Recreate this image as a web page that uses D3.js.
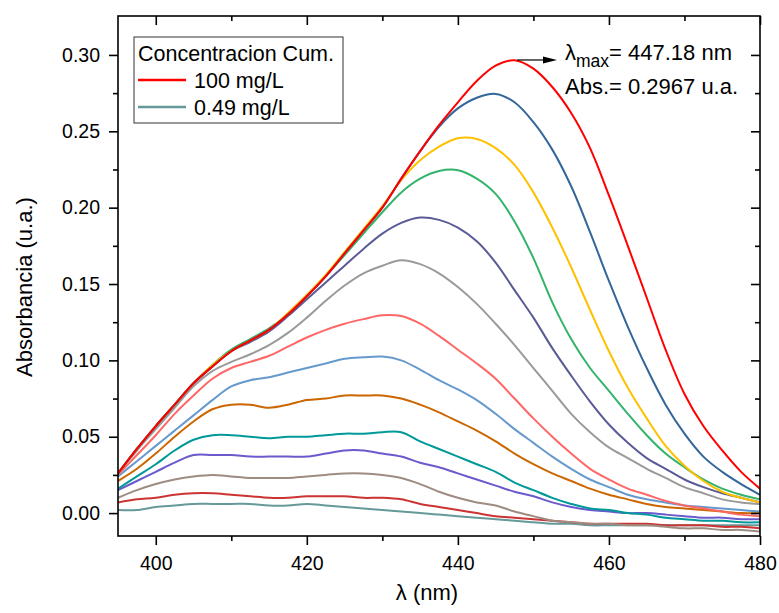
<!DOCTYPE html>
<html>
<head>
<meta charset="utf-8">
<script src="https://cdn.jsdelivr.net/npm/d3@7"></script>
<style>
body { margin: 0; background: #fff; }
text { font-family: "Liberation Sans", Arial, sans-serif; fill: #000; }
</style>
</head>
<body>
<script>
// longitud de onda (nm), cada 2.5 nm
var lambda = [395, 397.5, 400, 402.5, 405, 407.5, 410, 412.5, 415, 417.5, 420, 422.5, 425, 427.5, 430, 432.5, 435, 437.5, 440,
              442.5, 445, 447.5, 450, 452.5, 455, 457.5, 460, 462.5, 465, 467.5, 470, 472.5, 475, 477.5, 480];

// absorbancia de cada espectro (de 100 mg/L a 0.49 mg/L)
var curva01 = [0.026, 0.042, 0.057, 0.071, 0.085, 0.096, 0.106, 0.113, 0.120, 0.130, 0.142, 0.155, 0.170, 0.185, 0.200, 0.219, 0.237, 0.254,
               0.269, 0.283, 0.293, 0.2965, 0.291, 0.279, 0.262, 0.239, 0.208, 0.175, 0.141, 0.107, 0.078, 0.057, 0.041, 0.027, 0.016];
var curva02 = [0.026, 0.042, 0.057, 0.071, 0.085, 0.096, 0.106, 0.113, 0.120, 0.130, 0.142, 0.155, 0.170, 0.185, 0.200, 0.219, 0.237, 0.253,
               0.265, 0.272, 0.2745, 0.269, 0.256, 0.238, 0.214, 0.184, 0.152, 0.122, 0.095, 0.071, 0.052, 0.037, 0.027, 0.019, 0.012];
var curva03 = [0.026, 0.042, 0.057, 0.071, 0.085, 0.097, 0.106, 0.113, 0.120, 0.131, 0.143, 0.156, 0.171, 0.186, 0.201, 0.218, 0.231, 0.240,
               0.2455, 0.245, 0.239, 0.228, 0.210, 0.187, 0.161, 0.133, 0.106, 0.082, 0.062, 0.044, 0.031, 0.021, 0.014, 0.010, 0.007];
var curva04 = [0.026, 0.042, 0.057, 0.071, 0.085, 0.097, 0.107, 0.114, 0.121, 0.130, 0.142, 0.155, 0.169, 0.183, 0.197, 0.210, 0.219, 0.224,
               0.2245, 0.219, 0.209, 0.191, 0.167, 0.138, 0.114, 0.095, 0.080, 0.065, 0.051, 0.039, 0.030, 0.022, 0.016, 0.012, 0.009];
var curva05 = [0.026, 0.042, 0.057, 0.071, 0.085, 0.096, 0.106, 0.112, 0.119, 0.129, 0.140, 0.151, 0.162, 0.173, 0.183, 0.190, 0.1935, 0.192,
               0.187, 0.178, 0.164, 0.146, 0.128, 0.108, 0.090, 0.073, 0.058, 0.046, 0.036, 0.029, 0.022, 0.017, 0.013, 0.010, 0.007];
var curva06 = [0.026, 0.041, 0.055, 0.069, 0.083, 0.093, 0.099, 0.104, 0.110, 0.118, 0.128, 0.139, 0.149, 0.157, 0.162, 0.1655, 0.163, 0.157,
               0.148, 0.137, 0.124, 0.110, 0.095, 0.080, 0.065, 0.053, 0.043, 0.036, 0.029, 0.023, 0.017, 0.013, 0.009, 0.007, 0.006];
var curva07 = [0.025, 0.038, 0.051, 0.065, 0.077, 0.088, 0.095, 0.099, 0.103, 0.109, 0.115, 0.120, 0.124, 0.127, 0.1295, 0.129, 0.124, 0.116,
               0.107, 0.098, 0.088, 0.075, 0.062, 0.050, 0.039, 0.029, 0.022, 0.016, 0.012, 0.008, 0.005, 0.003, 0.001, -0.001, -0.002];
var curva08 = [0.024, 0.034, 0.044, 0.054, 0.064, 0.074, 0.083, 0.087, 0.089, 0.092, 0.095, 0.098, 0.101, 0.102, 0.1025, 0.100, 0.094, 0.087,
               0.081, 0.074, 0.065, 0.055, 0.046, 0.037, 0.029, 0.022, 0.017, 0.012, 0.009, 0.007, 0.005, 0.004, 0.003, 0.002, 0.001];
var curva09 = [0.021, 0.029, 0.039, 0.050, 0.060, 0.068, 0.071, 0.071, 0.069, 0.071, 0.074, 0.075, 0.077, 0.077, 0.077, 0.075, 0.071, 0.066,
               0.060, 0.054, 0.047, 0.039, 0.032, 0.026, 0.021, 0.016, 0.012, 0.009, 0.006, 0.004, 0.003, 0.002, 0.001, 0.000, 0.000];
var curva10 = [0.016, 0.024, 0.032, 0.041, 0.048, 0.051, 0.051, 0.050, 0.049, 0.050, 0.050, 0.051, 0.052, 0.052, 0.053, 0.053, 0.047, 0.042,
               0.037, 0.032, 0.027, 0.020, 0.015, 0.010, 0.006, 0.003, 0.002, 0.000, -0.001, -0.003, -0.004, -0.005, -0.005, -0.006, -0.006];
var curva11 = [0.015, 0.021, 0.027, 0.033, 0.038, 0.038, 0.038, 0.037, 0.037, 0.037, 0.037, 0.039, 0.041, 0.041, 0.039, 0.037, 0.033, 0.030,
               0.026, 0.022, 0.018, 0.014, 0.011, 0.007, 0.004, 0.002, 0.001, 0.000, 0.000, -0.001, -0.002, -0.003, -0.003, -0.004, -0.004];
var curva12 = [0.010, 0.015, 0.019, 0.022, 0.024, 0.025, 0.024, 0.023, 0.023, 0.023, 0.024, 0.025, 0.026, 0.026, 0.025, 0.023, 0.019, 0.014,
               0.010, 0.007, 0.005, 0.001, -0.002, -0.005, -0.006, -0.007, -0.007, -0.008, -0.008, -0.009, -0.010, -0.010, -0.011, -0.011, -0.012];
var curva13 = [0.007, 0.009, 0.010, 0.012, 0.013, 0.013, 0.012, 0.011, 0.010, 0.010, 0.011, 0.011, 0.011, 0.010, 0.010, 0.009, 0.006, 0.004,
               0.002, 0.000, -0.002, -0.003, -0.004, -0.005, -0.006, -0.007, -0.007, -0.007, -0.007, -0.008, -0.008, -0.008, -0.009, -0.009, -0.010];
var curva14 = [0.002, 0.002, 0.004, 0.005, 0.006, 0.006, 0.006, 0.006, 0.005, 0.005, 0.006, 0.005, 0.004, 0.003, 0.002, 0.001, 0.000, -0.001,
               -0.002, -0.003, -0.004, -0.005, -0.006, -0.007, -0.007, -0.008, -0.008, -0.008, -0.008, -0.008, -0.008, -0.008, -0.008, -0.008, -0.008];

var colores = ["#ff0000", "#336699", "#ffc000", "#33b36b", "#5a5a96", "#9a9a9a", "#ff6666",
               "#6699cc", "#cc6600", "#009999", "#6a5acd", "#9e8b82", "#cc3333", "#669999"];

var legendLabels = ["100 mg/L", "0.49 mg/L"];
var xMajor = [400, 420, 440, 460, 480];
var xMinor = [410, 430, 450, 470];
var yMajor = [0, 0.05, 0.10, 0.15, 0.20, 0.25, 0.30];
var yMinor = [0.025, 0.075, 0.125, 0.175, 0.225, 0.275];
var lambdaMax = 447.18, absMax = 0.2967;

var curvas = [curva01, curva02, curva03, curva04, curva05, curva06, curva07,
              curva08, curva09, curva10, curva11, curva12, curva13, curva14];

var width = 779, height = 613;
var x0 = 118, x1 = 760, y0 = 536, y1 = 16;

var svg = d3.select("body").append("svg")
    .attr("width", width)
    .attr("height", height);

var x = d3.scaleLinear().domain([395, 480]).range([x0, x1]);
var y = d3.scaleLinear().domain([-0.015, 0.3255]).range([y0, y1]);

svg.append("clipPath").attr("id", "clip")
   .append("rect").attr("x", x0).attr("y", y1).attr("width", x1 - x0).attr("height", y0 - y1);

// espectros
var line = d3.line()
    .x(function(d, i) { return x(lambda[i]); })
    .y(function(d) { return y(d); })
    .curve(d3.curveCatmullRom.alpha(0.5));

svg.append("g").attr("clip-path", "url(#clip)")
   .selectAll("path")
   .data(curvas.slice().reverse())
   .enter()
   .append("path")
   .attr("d", line)
   .attr("fill", "none")
   .attr("stroke", function(d, i) { return colores[curvas.length - 1 - i]; })
   .attr("stroke-width", 2)
   .attr("stroke-linejoin", "round");

// ejes (mayores + menores, abajo/izquierda hacia afuera, arriba/derecha hacia adentro)
function eje(axis, tr) {
  var g = svg.append("g").attr("transform", tr).call(axis);
  g.select(".domain").remove();
  g.selectAll("line").attr("stroke", "#000").attr("stroke-width", 1.6);
  g.selectAll("text").attr("font-size", "19.5px").attr("font-family", "'Liberation Sans', Arial, sans-serif");
  return g;
}

eje(d3.axisBottom(x).tickValues(xMajor).tickSize(9).tickPadding(11).tickFormat(d3.format("d")), "translate(0," + y0 + ")");
eje(d3.axisBottom(x).tickValues(xMinor).tickSize(5).tickFormat(""), "translate(0," + y0 + ")");
eje(d3.axisTop(x).tickValues(xMajor).tickSize(-9).tickFormat(""), "translate(0," + y1 + ")");
eje(d3.axisTop(x).tickValues(xMinor).tickSize(-5).tickFormat(""), "translate(0," + y1 + ")");

eje(d3.axisLeft(y).tickValues(yMajor).tickSize(9).tickPadding(9).tickFormat(d3.format(".2f")), "translate(" + x0 + ",0)");
eje(d3.axisLeft(y).tickValues(yMinor).tickSize(5).tickFormat(""), "translate(" + x0 + ",0)");
eje(d3.axisRight(y).tickValues(yMajor).tickSize(-9).tickFormat(""), "translate(" + x1 + ",0)");
eje(d3.axisRight(y).tickValues(yMinor).tickSize(-5).tickFormat(""), "translate(" + x1 + ",0)");

svg.append("rect")
   .attr("x", x0).attr("y", y1)
   .attr("width", x1 - x0).attr("height", y0 - y1)
   .attr("fill", "none")
   .attr("stroke", "#000")
   .attr("stroke-width", 1.6);

// títulos de ejes
svg.append("text")
   .attr("x", 427).attr("y", 600)
   .attr("text-anchor", "middle")
   .attr("font-size", "22px")
   .text("λ (nm)");

svg.append("text")
   .attr("transform", "translate(32,287) rotate(-90)")
   .attr("text-anchor", "middle")
   .attr("font-size", "22px")
   .text("Absorbancia (u.a.)");

// leyenda
var leg = svg.append("g");
leg.append("rect")
   .attr("x", 134).attr("y", 37).attr("width", 209).attr("height", 86)
   .attr("fill", "#fff").attr("stroke", "#333").attr("stroke-width", 1);
leg.append("text").attr("x", 138).attr("y", 61).attr("font-size", "21.5px").text("Concentracion Cum.");

leg.selectAll(".item")
   .data(legendLabels)
   .enter()
   .append("g")
   .attr("class", "item")
   .attr("transform", function(d, i) { return "translate(0," + (80 + i * 27) + ")"; })
   .each(function(d, i) {
     var g = d3.select(this);
     g.append("line").attr("x1", 138).attr("x2", 186).attr("y1", 0).attr("y2", 0)
      .attr("stroke", i == 0 ? colores[0] : colores[colores.length - 1]).attr("stroke-width", 2.5);
     g.append("text").attr("x", 194).attr("y", 8).attr("font-size", "21.5px").text(d);
   });

// anotación del máximo
var ax = x(lambdaMax), ay = y(absMax);
svg.append("line")
   .attr("x1", ax + 5).attr("x2", 545).attr("y1", ay).attr("y2", ay)
   .attr("stroke", "#000").attr("stroke-width", 1.2);
svg.append("polygon")
   .attr("points", "557," + ay + " 543," + (ay - 3.5) + " 543," + (ay + 3.5))
   .attr("fill", "#000");

var t1 = svg.append("text").attr("x", 565).attr("y", 60).attr("font-size", "22px");
t1.append("tspan").text("λ");
t1.append("tspan").attr("dy", 7).attr("font-size", "17.5px").text("max");
t1.append("tspan").attr("dy", -7).text("= " + lambdaMax + " nm");

svg.append("text").attr("x", 565).attr("y", 94).attr("font-size", "22px")
   .text("Abs.= " + absMax + " u.a.");
</script>
</body>
</html>
